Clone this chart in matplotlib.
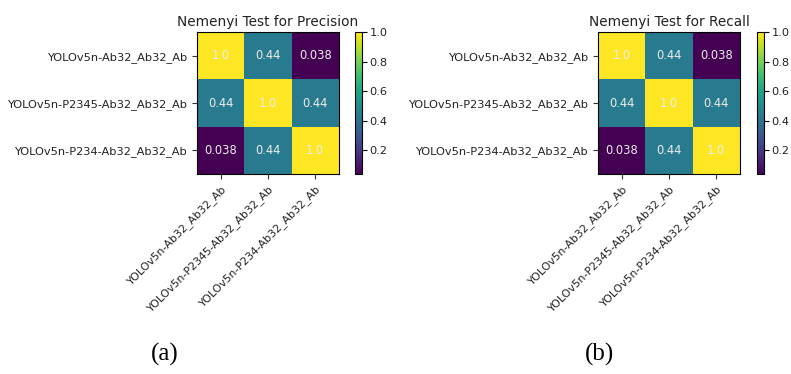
import numpy as np
import matplotlib
matplotlib.use("Agg")
import matplotlib.pyplot as plt

models = ["YOLOv5n-Ab32_Ab32_Ab", "YOLOv5n-P2345-Ab32_Ab32_Ab", "YOLOv5n-P234-Ab32_Ab32_Ab"]
precision_p = [[1.0, 0.44, 0.038],
               [0.44, 1.0, 0.44],
               [0.038, 0.44, 1.0]]
recall_p = [[1.0, 0.44, 0.038],
            [0.44, 1.0, 0.44],
            [0.038, 0.44, 1.0]]
titles = ["Nemenyi Test for Precision", "Nemenyi Test for Recall"]
captions = ["(a)", "(b)"]

W, H = 791, 374
fig = plt.figure(figsize=(W / 100, H / 100), dpi=100)


def box(x0, y0, x1, y1):
    # pixel box -> figure fraction
    return [x0 / W, 1 - y1 / H, (x1 - x0) / W, (y1 - y0) / H]


panels = [(197, 355, 165), (598, 757, 599)]
for (ax_x, cb_x, cap_x), data, title, cap in zip(panels, [precision_p, recall_p], titles, captions):
    data = np.array(data)
    ax = fig.add_axes(box(ax_x, 32, ax_x + 142, 174))
    im = ax.imshow(data, cmap="viridis", aspect="auto")
    for i in range(len(models)):
        for j in range(len(models)):
            ax.text(j, i, str(data[i, j]), ha="center", va="center",
                    color="#ececec", fontsize=8.3)
    ax.set_xticks(range(len(models)))
    ax.set_yticks(range(len(models)))
    ax.set_xticklabels(models, rotation=45, ha="right", rotation_mode="anchor", fontsize=7.9)
    ax.set_yticklabels(models, fontsize=8.2)
    ax.tick_params(colors="#333333", labelcolor="#222222")
    ax.set_title(title, fontsize=9.8, pad=4, color="#222222")
    cax = fig.add_axes(box(cb_x, 32, cb_x + 7, 174))
    cb = fig.colorbar(im, cax=cax)
    cb.set_ticks([0.2, 0.4, 0.6, 0.8, 1.0])
    cb.ax.tick_params(labelsize=8.2, pad=2, labelcolor="#222222")
    cb.outline.set_linewidth(0.8)
    fig.text(cap_x / W, 1 - 354 / H, cap, family="Liberation Serif", fontsize=18,
             ha="center", va="center")

fig.savefig("out.png", dpi=100)
